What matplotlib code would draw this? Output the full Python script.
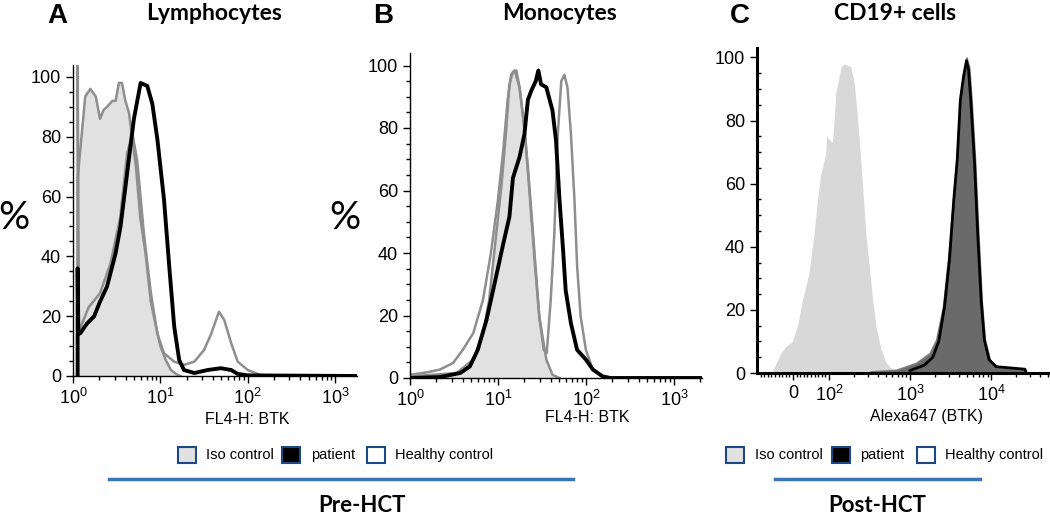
import numpy as np
import matplotlib
matplotlib.use('Agg')
import matplotlib.pyplot as plt
from matplotlib.patches import Rectangle
from matplotlib.lines import Line2D
from matplotlib.ticker import FixedLocator, NullFormatter, LogLocator

plt.rcParams['font.family'] = ['Liberation Sans', 'DejaVu Sans']

# ---- panel A: lymphocytes (pre-HCT) ----
a_iso_x = [1.13, 1.13, 1.38, 1.58, 1.82, 2.04, 2.24, 2.45, 2.82, 3.07, 3.35, 3.63, 3.98, 4.37,
           4.79, 5.25, 5.89, 6.76, 7.76, 8.91, 10.0, 11.5, 13.2, 15.8, 17.0]
a_iso_y = [0, 66, 93.5, 96, 93.5, 86, 89, 90, 92, 92, 98, 98, 92, 88,
           79, 70, 53, 41, 25, 16.5, 10, 5.4, 2, 0.3, 0]
a_pat_x = [1.13, 1.13, 1.15, 1.21, 1.45, 1.74, 2.04, 2.45, 3.07, 3.5, 4.17, 4.98, 5.94, 7.08, 8.09,
           9.25, 11.0, 12.6, 14.4, 16.4, 18.6, 24.5, 34.7, 49, 64.6, 76.7, 100, 1800]
a_pat_y = [0, 36, 14, 14.3, 17.6, 19.9, 24.9, 29.9, 41, 50, 68, 86, 98, 97, 91,
           79, 59, 37, 16.5, 5.4, 2, 1, 2, 2.6, 2, 0.7, 0.2, 0]
a_hc_x = [1.13, 1.13, 1.17, 1.51, 2.04, 2.69, 3.47, 4.17, 4.79, 5.43, 6.46, 7.76, 9.25, 11.0,
          14.4, 18.6, 24.5, 31.6, 38.0, 46.8, 53.7, 64.6, 76.7, 100, 141, 200]
a_hc_y = [0, 110, 15, 23, 27.7, 37.7, 53, 74.6, 81, 72, 48, 28, 14, 7.6,
          4.8, 3.7, 4.8, 8.7, 14, 21.5, 18.8, 11, 4.8, 2, 0.3, 0]

# ---- panel B: monocytes (pre-HCT) ----
b_iso_x = [1, 3.39, 5.25, 6.76, 7.94, 9.55, 11.0, 12.3, 13.5, 14.8, 16.2, 17.6, 20.0, 21.9,
           25.1, 29.5, 35.5, 41.7, 50]
b_iso_y = [0.5, 1.6, 5.9, 14, 25, 46, 62, 78, 94, 98, 98.4, 93, 80, 67.5,
           46, 19.7, 5.9, 1, 0]
b_hc_x = [1, 1.55, 2.19, 3.09, 3.98, 5.25, 6.76, 8.32, 10.0, 11.5, 12.9, 14.1, 15.5, 17.6, 20.0,
          22.9, 26.0, 29.5, 33.1, 35.9, 39.8, 43.7, 47.9, 52.5, 56.9, 61.7, 67.6, 74.1, 79.4,
          87.1, 100, 120, 155, 200]
b_hc_y = [1, 1.8, 2.7, 4.8, 9, 14.4, 25, 40, 57, 73, 89, 97, 98.4, 93, 80,
          59, 38, 19.7, 9, 8, 25, 46, 78, 95, 97, 93, 78, 57, 36,
          19.7, 9, 2.7, 0.5, 0]
b_pat_x = [1, 2.19, 3.72, 4.79, 5.89, 7.41, 9.12, 11.5, 13.5, 14.8, 17.6, 20.0, 21.9, 24.0, 26.9,
           28.8, 30.9, 35.5, 41.7, 45.7, 50.1, 55.0, 58.9, 67.6, 79.4, 100, 120, 155, 190, 2100]
b_pat_y = [0, 0.3, 1.6, 3.7, 9, 18.6, 30, 43, 51.6, 64, 70.7, 78, 89, 92, 95,
           98.4, 94, 93, 85.6, 76, 57, 41, 28, 17.5, 9, 5.9, 2.7, 0.5, 0, 0]

# ---- panel C: CD19+ cells (post-HCT) ----
c_iso_x = [-60, -53, -34, -20, -2, 12, 26, 44, 58, 68, 77, 91, 93, 110, 121, 140, 153, 185, 204,
           214, 235, 259, 284, 313, 345, 379, 437, 504, 609, 680]
c_iso_y = [0, 1.6, 6.3, 8.4, 10, 14.8, 23, 31.6, 44, 55, 63, 69.6, 75, 73, 88.6, 97, 98, 97, 92,
           86.5, 74, 59, 44, 33.8, 23, 14.8, 7.4, 3.2, 1, 0]
c_pat_x = [329, 670, 1185, 1738, 2090, 2540, 2930, 3380, 3720, 4090, 4490, 4940, 5330, 5700,
           6300, 6920, 7600, 8340, 9600, 11700, 26000, 27000]
c_pat_y = [0.5, 1, 3.2, 6.3, 10.5, 21, 36, 55, 67.5, 86.5, 94, 100, 97, 86.5,
           67.5, 44, 23, 10.5, 4.2, 2, 1, 0]
c_hc_x = [1000, 1500, 1900, 2250, 2650, 3050, 3450, 3800, 4150, 4550, 4940, 5250, 5600, 6200,
          6800, 7500, 8200, 9400, 11500, 26000, 27000]
c_hc_y = [0.8, 2.5, 5, 10, 21, 36, 55, 67.5, 86.5, 94, 99, 96, 86, 67,
          44, 23, 10.5, 4.2, 2, 1.2, 0]

yticks = [0, 20, 40, 60, 80, 100]
log_ticks = [1, 10, 100, 1000]
log_labels = [r'$\mathregular{10^{0}}$', r'$\mathregular{10^{1}}$',
              r'$\mathregular{10^{2}}$', r'$\mathregular{10^{3}}$']
c_ticks = [0, 100, 1000, 10000]
c_labels = ['0', r'$\mathregular{10^{2}}$', r'$\mathregular{10^{3}}$', r'$\mathregular{10^{4}}$']

W, H = 1050, 516
GRAY = '#8e8e8e'
FILL = '#e1e1e1'


def box(left, right, top, bottom):
    return [left / W, 1 - bottom / H, (right - left) / W, (bottom - top) / H]


def style(ax, lw=1.0, minor_in=False):
    for s in ['top', 'right']:
        ax.spines[s].set_visible(False)
    for s in ['left', 'bottom']:
        ax.spines[s].set_linewidth(lw)
    ax.set_yticks(yticks)
    ax.yaxis.set_minor_locator(FixedLocator(np.arange(0, 101, 5)))
    ax.tick_params(axis='both', which='major', length=5, width=1, labelsize=13, direction='out')
    ax.tick_params(axis='y', which='minor', length=3, width=1,
                   direction='in' if minor_in else 'out')
    ax.tick_params(axis='x', which='minor', length=3, width=1, direction='out')


fig = plt.figure(figsize=(10.5, 5.16), dpi=100)

# panel A
axA = fig.add_axes(box(73, 357, 65, 376))
axA.set_xscale('log')
axA.fill_between(a_iso_x, a_iso_y, color=FILL, lw=0)
axA.plot(a_iso_x, a_iso_y, color=GRAY, lw=1.8)
axA.plot(a_hc_x, a_hc_y, color=GRAY, lw=1.8)
axA.plot(a_pat_x, a_pat_y, color='black', lw=2.8)
axA.set_xlim(1, 10 ** 3.25)
axA.set_ylim(0, 104)
style(axA)
axA.set_xticks(log_ticks)
axA.set_xticklabels(log_labels)
axA.xaxis.set_minor_locator(LogLocator(subs=np.arange(2, 10)))
axA.xaxis.set_minor_formatter(NullFormatter())
axA.set_xlabel('FL4-H: BTK', fontsize=11.5)
axA.xaxis.set_label_coords(0.613, -0.115)

# panel B
axB = fig.add_axes(box(410, 702, 53, 378))
axB.set_xscale('log')
axB.fill_between(b_iso_x, b_iso_y, color=FILL, lw=0)
axB.plot(b_iso_x, b_iso_y, color=GRAY, lw=1.8)
axB.plot(b_hc_x, b_hc_y, color=GRAY, lw=1.8)
axB.plot(b_pat_x, b_pat_y, color='black', lw=2.8)
axB.set_xlim(1, 10 ** 3.32)
axB.set_ylim(0, 104)
style(axB)
axB.set_xticks(log_ticks)
axB.set_xticklabels(log_labels)
axB.xaxis.set_minor_locator(LogLocator(subs=np.arange(2, 10)))
axB.xaxis.set_minor_formatter(NullFormatter())
axB.set_xlabel('FL4-H: BTK', fontsize=11.5)
axB.xaxis.set_label_coords(0.606, -0.1)

# panel C
axC = fig.add_axes(box(757, 1048, 48, 373))
axC.set_xscale('symlog', linthresh=100, linscale=0.4)
axC.fill_between(c_iso_x, c_iso_y, color='#d8d8d8', lw=0)
axC.fill_between(c_pat_x, c_pat_y, color='#6a6a6a', edgecolor='#7a7a7a', lw=1.2)
axC.plot(c_hc_x, c_hc_y, color='black', lw=2.0)
axC.set_xlim(-100, 50000)
axC.set_ylim(0, 103)
style(axC, lw=2.2, minor_in=True)
axC.set_xticks(c_ticks)
axC.set_xticklabels(c_labels)
c_minor = ([-90, -80, -70, -60, -50, -40, -30, -20, -10] + list(range(10, 100, 10)) +
           list(range(200, 1000, 100)) + list(range(2000, 10000, 1000)) +
           list(range(20000, 60000, 10000)))
axC.xaxis.set_minor_locator(FixedLocator(c_minor))
axC.xaxis.set_minor_formatter(NullFormatter())
axC.set_xlabel('Alexa647 (BTK)', fontsize=11.5)
axC.xaxis.set_label_coords(0.584, -0.11)

# panel letters and titles
for x, letter in [(57, 'A'), (383, 'B'), (740, 'C')]:
    fig.text(x / W, 1 - 16 / H, letter, fontsize=20, fontweight='bold', ha='center', va='center')
for x, title in [(214, 'Lymphocytes'), (559, 'Monocytes'), (895, 'CD19+ cells')]:
    fig.text(x / W, 1 - 13 / H, title, fontsize=16.5, fontweight='bold', family='Lato',
             ha='center', va='center')
for x in [14, 345]:
    fig.text(x / W, 1 - 218 / H, '%', fontsize=28, family='Lato', ha='center', va='center')

# legends
EDGE = '#1f4785'
legend_rows = [
    [(178, FILL, 206, 'Iso control'), (282, 'black', 311, 'patient'), (367, 'white', 395, 'Healthy control')],
    [(726, FILL, 755, 'Iso control'), (832, 'black', 860, 'patient'), (917, 'white', 945, 'Healthy control')],
]
for row in legend_rows:
    for bx, fc, tx, label in row:
        fig.add_artist(Rectangle((bx / W, 1 - 463 / H), 18 / W, 16 / H, transform=fig.transFigure,
                                 facecolor=fc, edgecolor=EDGE, lw=1.5))
        fig.text(tx / W, 1 - 455 / H, label, fontsize=10.5, ha='left', va='center')

BLUE = '#3b73b9'
for x0, x1, xc, label in [(109, 573, 362, 'Pre-HCT'), (775, 980, 877, 'Post-HCT')]:
    fig.add_artist(Line2D([x0 / W, x1 / W], [1 - 479 / H] * 2, transform=fig.transFigure,
                          color=BLUE, lw=2.5))
    fig.text(xc / W, 1 - 505 / H, label, fontsize=16, fontweight='bold', family='Lato',
             ha='center', va='center')

fig.savefig('out.png', dpi=100)
